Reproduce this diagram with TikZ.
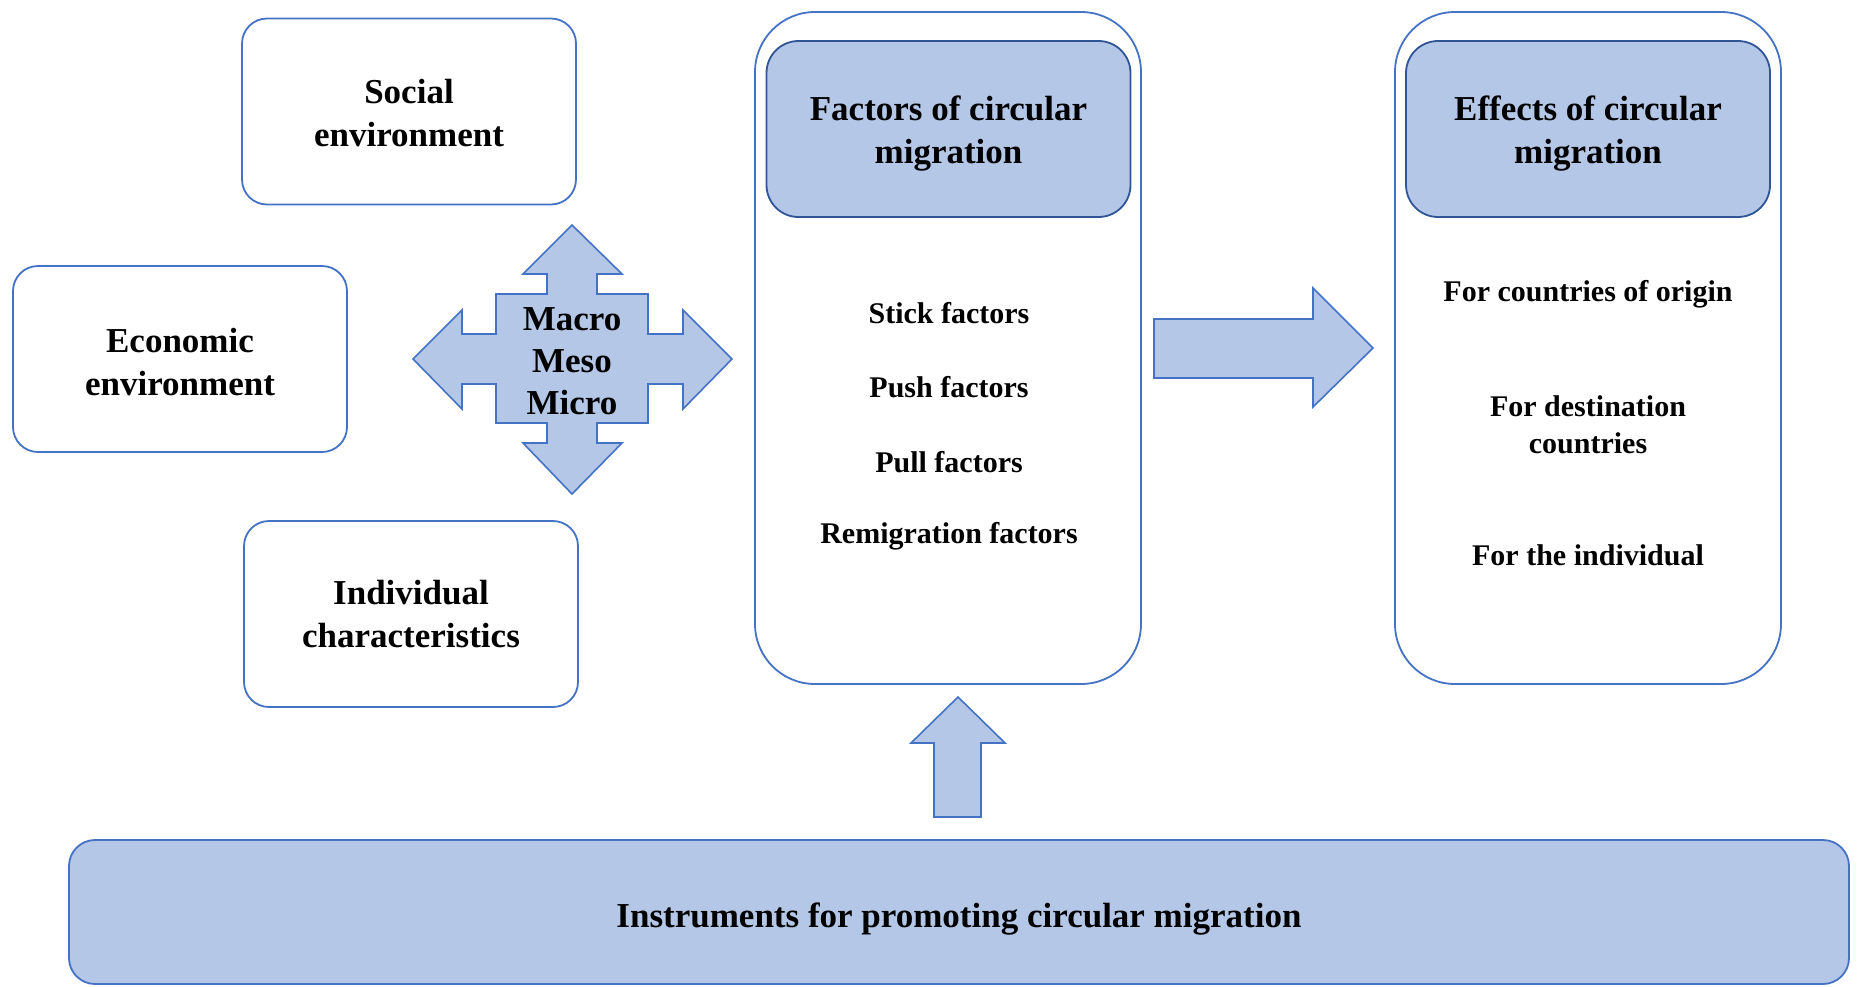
\documentclass[tikz,border=0pt]{standalone}
\usepackage{fontspec}
\setmainfont{Liberation Serif}
\definecolor{boxline}{HTML}{4472C4}
\definecolor{headline}{HTML}{2F5597}
\definecolor{boxfill}{HTML}{B4C7E7}
\newcommand{\lowertext}[2]{\raisebox{-#1}[\height][\depth]{\begin{tabular}{@{}c@{}}#2\end{tabular}}}
\tikzset{
  plainbox/.style={draw=boxline, line width=0.9pt, rounded corners=12.5pt, fill=white,
    minimum width=167pt, minimum height=93pt, align=center,
    font=\fontsize{17.5}{21.5}\selectfont\bfseries},
  framebox/.style={draw=boxline, line width=0.9pt, rounded corners=30pt,
    minimum width=193pt, minimum height=336pt},
  headbox/.style={draw=headline, line width=0.9pt, rounded corners=16pt, fill=boxfill,
    minimum width=182pt, minimum height=88pt, align=center,
    font=\fontsize{17.5}{21.5}\selectfont\bfseries},
  item/.style={align=center, font=\fontsize{15}{18.5}\selectfont\bfseries},
  blockarrow/.style={draw=boxline, line width=0.8pt, fill=boxfill, line join=miter}
}
\begin{document}
\begin{tikzpicture}[x=0.5pt, y=-0.5pt]
      \useasboundingbox (0,0) rectangle (1858,986);
      % left boxes
      \node[plainbox] (social) at (409,111.5) {\lowertext{2.5pt}{Social\\environment}};
      \node[plainbox] (economic) at (180,359) {\lowertext{3pt}{Economic\\environment}};
      \node[plainbox] (individual) at (411,614) {Individual\\characteristics};
      % levels cross
      \draw[blockarrow] (547,294) -- (547,274) -- (523,274) -- (572,225) -- (622,274)
        -- (597,274) -- (597,294) -- (648,294) -- (648,334) -- (683,334) -- (683,310)
        -- (732,359) -- (683,409) -- (683,384) -- (648,384) -- (648,423) -- (597,423)
        -- (597,443) -- (622,443) -- (572,494) -- (523,443) -- (547,443) -- (547,423)
        -- (496,423) -- (496,384) -- (462,384) -- (462,409) -- (413,359) -- (462,310)
        -- (462,334) -- (496,334) -- (496,294) -- cycle;
      \node[align=center, font=\fontsize{17.5}{21}\selectfont\bfseries] (levels) at (572,361)
        {Macro\\Meso\\Micro};
      % factors
      \node[framebox] (factors) at (948,348) {};
      \node[headbox] (factorshead) at (948.5,129) {\lowertext{2pt}{Factors of circular\\migration}};
      \node[item] (stick) at (949,313) {Stick factors};
      \node[item] (push) at (949,387) {Push factors};
      \node[item] (pull) at (949,462) {Pull factors};
      \node[item] (remig) at (949,536) {Remigration factors};
      % effects
      \node[framebox] (effects) at (1588,348) {};
      \node[headbox] (effectshead) at (1588,129) {\lowertext{2pt}{Effects of circular\\migration}};
      \node[item] (origin) at (1588,294) {For countries of origin};
      \node[item] (dest) at (1588,425) {For destination\\countries};
      \node[item] (indiv) at (1588,555) {For the individual};
      % instruments
      \node[plainbox, fill=boxfill, rounded corners=13pt, minimum width=890pt,
        minimum height=72pt] (instr) at (959,912) {\lowertext{3.5pt}{Instruments for promoting circular migration}};
      % block arrows
      \draw[blockarrow] (1154,319) -- (1313,319) -- (1313,288) -- (1373,348)
        -- (1313,407) -- (1313,378) -- (1154,378) -- cycle;
      \draw[blockarrow] (934,817) -- (934,743) -- (911,743) -- (958,697)
        -- (1005,743) -- (981,743) -- (981,817) -- cycle;
    \end{tikzpicture}
\end{document}
